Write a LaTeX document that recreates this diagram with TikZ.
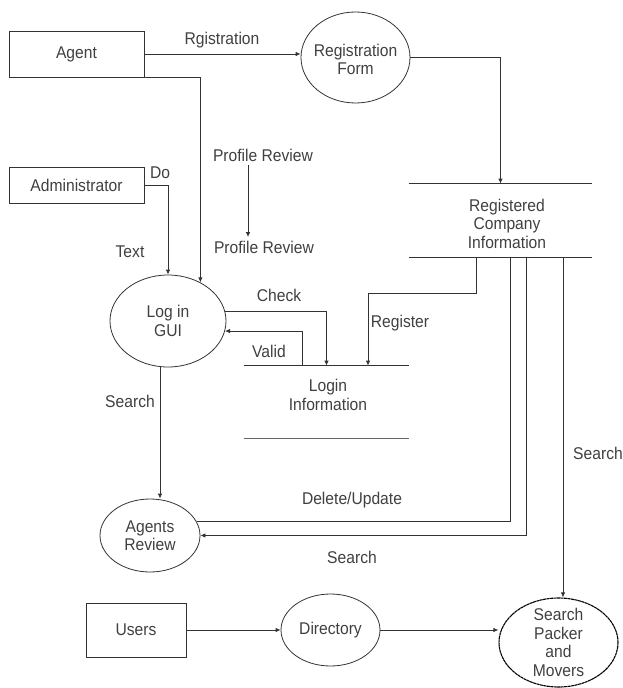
\documentclass[tikz,border=0pt]{standalone}
\usepackage{fontspec}
\setmainfont{Liberation Sans}[FakeStretch=0.92]
\usetikzlibrary{shapes.geometric,arrows.meta}

\begin{document}
\begin{tikzpicture} [x=1pt, y=-1pt, line width=0.8pt, color=black!80,
        every node/.style={font=\fontsize{17}{18.5}\selectfont, text=black!75},
        box/.style={draw, rectangle, inner sep=0pt},
        proc/.style={draw, ellipse, inner sep=0pt},
        store/.style={inner sep=0pt},
        flow/.style={-{Latex[length=5pt,width=4.5pt]}}]

        \useasboundingbox (0,0) rectangle (622,688);

        \node[box, minimum width=135pt, minimum height=46pt] (agent) at (76.5, 54) {Agent};
        \node[box, minimum width=135pt, minimum height=36pt] (admin) at (76.5, 185) {Administrator};
        \node[box, minimum width=100pt, minimum height=54pt] (users) at (136, 630) {Users};

        \node[proc, minimum width=109pt, minimum height=91pt, label={[align=center, yshift=-2pt]center:Registration\\Form}] (regform) at (355.5, 57.5) {};
        \node[proc, minimum width=116pt, minimum height=92pt, align=center] (login) at (168, 321) {Log in\\GUI};
        \node[proc, minimum width=100pt, minimum height=73pt, align=center] (review) at (150, 535.5) {Agents\\Review};
        \node[proc, minimum width=99pt, minimum height=72pt] (directory) at (330.5, 630) {Directory};
        \node[proc, minimum width=119pt, minimum height=89pt, line width=1.1pt, draw=black, dash pattern=on 3pt off 0.5pt,
              label={[align=center]center:Search\\Packer\\and\\Movers}] (spm) at (558.5, 642.5) {};

        \node[store, minimum width=183pt, minimum height=73pt,
              label={[align=center, xshift=6.5pt, yshift=-3pt]center:Registered\\Company\\Information}] (rci) at (500.5, 220.5) {};
        \node[store, minimum width=165pt, minimum height=72pt,
              label={[align=center, xshift=1.5pt, yshift=7pt]center:Login\\Information}] (info) at (326.5, 402) {};

        \draw (rci.north west) -- (rci.north east);
        \draw (rci.south west) -- (rci.south east);
        \draw (info.north west) -- (info.north east);
        \draw[line width=1.8pt, black!60] (info.south west) -- (info.south east);

        \draw[flow] (agent.east) -- (agent.east -| regform.west);
        \draw[flow] (regform.east) -| (rci.north);
        \draw[flow] (agent.south east) -| (login.50);
        \draw[flow] (admin.east) -| (login.north);
        \draw[flow] (login.10) -| (info.north);
        \draw[flow] ([xshift=-24.5pt]info.north) |- (login.-10);
        \draw[flow] ([xshift=-24.5pt]rci.south) -- ++(0, 36) -| ([xshift=41.5pt]info.north);
        \draw[flow] ([xshift=-8pt]login.south) -- ([xshift=10pt]review.north);
        \draw (review.17) -| ([xshift=9.5pt]rci.south);
        \draw[flow] ([xshift=25.5pt]rci.south) |- (review.east);
        \draw[flow] ([xshift=62.5pt]rci.south) -- ([xshift=4.5pt]spm.north);
        \draw[flow] (users) -- (directory);
        \draw[flow] (directory.east) -- (directory.east -| spm.west);

        \node (lreg) at (222, 40) {Rgistration};
        \node (pr1) at (263, 155) {Profile Review};
        \node (pr2) at (264, 247) {Profile Review};
        \draw[flow] ([xshift=-15pt]pr1.south) -- ([xshift=-16pt]pr2.north);
        \node (do) at (160, 173) {Do};
        \node (text) at (130, 252) {Text};
        \node (check) at (279, 295) {Check};
        \node (valid) at (269, 351) {Valid};
        \node (register) at (400, 323) {Register};
        \node (search1) at (130, 401) {Search};
        \node (delup) at (352, 500) {Delete/Update};
        \node (search2) at (352, 557) {Search};
        \node (search3) at (598, 453) {Search};
    \end{tikzpicture}
\end{document}
